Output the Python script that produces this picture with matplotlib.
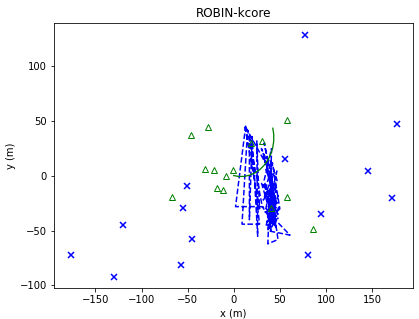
import matplotlib
matplotlib.use("Agg")
import matplotlib.pyplot as plt

# landmarks / detections
blue_x = [-51, -55.3, -120.4, -45.2, -176.8, -57.5, -129.5, 171.7, 94.4, 80.6, 176.8, 146, 56, 77.3]
blue_y = [-8.9, -29, -44.7, -57.3, -72.4, -81.6, -92.5, -19.8, -35, -71.9, 47.5, 4.3, 15.8, 128.8]

green_x = [-27.5, -46, 57.5, 19, 31, -31.1, -21, -8.7, -1, -18.4, -11.3, 57.8, 85.7, 40.8, -67]
green_y = [45, 37.7, 51, 30.4, 31.7, 6.7, 5.5, 0, 5.5, -11, -12.8, -18.9, -48.7, -29.5, -19.5]

# solid green arc
arc_x = [0.0, 4.9, 11.1, 17.2, 23.0, 28.4, 33.1, 37.1, 40.2, 42.3, 43.4, 43.4, 42.4]
arc_y = [0.4, -0.4, -0.4, 0.7, 2.8, 5.9, 9.9, 14.6, 20.0, 25.8, 31.9, 38.1, 43.6]

# dashed blue trajectory (fan + dense cluster)
traj_x = [13, 2, 31, 15, 9, 28, 17, 17, 20, 26, 25, 28, 12, 37, 30, 38, 33, 42, 32, 46,
          35, 47, 33, 48, 36, 44, 31, 49, 35, 42, 37, 61, 45, 48, 37, 38, 46, 40, 49, 34,
          43, 32, 47, 40, 44, 33, 41, 39, 48, 36, 50, 42, 34, 46, 38, 45, 30, 43, 36, 47]
traj_y = [46, -28, -28, 42, -44, -44, 38, -40, 36, -55, 32, -30, 46, 8, 25, 10, 30, -5, 18, -15,
          6, -25, -8, -35, -18, -45, -28, -38, -46, -20, -50, -54, -40, -58, -62, -40, -8, -50, -28, -33,
          2, -22, -4, 15, -38, -4, 25, -48, -18, -42, -30, 12, -14, -48, 3, -25, -6, -44, -36, 5]

fig = plt.figure(figsize=(419 / 72, 319 / 72), dpi=72)
ax = fig.add_axes([54 / 419, 1 - 288 / 319, (412.7 - 54) / 419, (288 - 23) / 319])

ax.plot(traj_x, traj_y, "--", color="blue", lw=1.5)
ax.plot(arc_x, arc_y, "-", color="green", lw=1.3)
ax.plot(blue_x, blue_y, "x", color="blue", ms=6, mew=1.5)
ax.plot(green_x, green_y, "^", color="green", mfc="none", ms=6, mew=1.0)

ax.set_xlim(-194.9, 194.1)
ax.set_ylim(-102.3, 139.7)
ax.set_xticks([-150, -100, -50, 0, 50, 100, 150])
ax.set_yticks([-100, -50, 0, 50, 100])
ax.set_xlabel("x (m)")
ax.set_ylabel("y (m)")
ax.set_title("ROBIN-kcore")

fig.savefig("out.png", dpi=72)
